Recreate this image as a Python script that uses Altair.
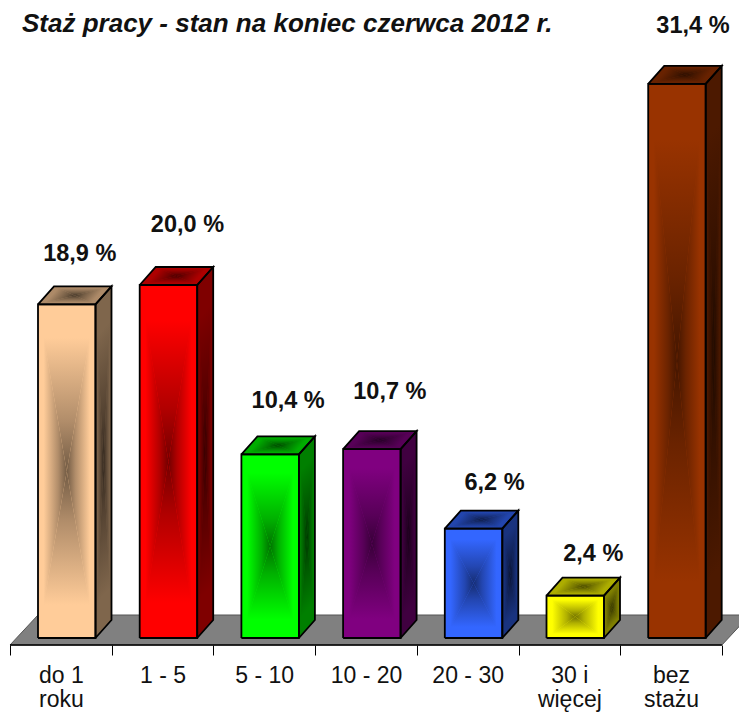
import altair as alt
import pandas as pd

categories = ["do 1 roku", "1 - 5", "5 - 10", "10 - 20", "20 - 30", "30 i więcej", "bez stażu"]
tick_lines = [["do 1", "roku"], ["1 - 5"], ["5 - 10"], ["10 - 20"], ["20 - 30"], ["30 i", "więcej"], ["bez", "stażu"]]
values = [18.9, 20.0, 10.4, 10.7, 6.2, 2.4, 31.4]
labels = ["18,9 %", "20,0 %", "10,4 %", "10,7 %", "6,2 %", "2,4 %", "31,4 %"]
colors = ["#FFCC99", "#FF0000", "#00FF00", "#800080", "#3366FF", "#FFFF00", "#993300"]
TITLE = "Staż pracy - stan na koniec czerwca 2012 r."

PX_X, PX_Y = 101.7, 17.65          # pixels per category / per percent
LEFT, RIGHT = -2 / PX_X, 729 / PX_X
FLOOR_Y, TOP = -7 / PX_Y, 614 / PX_Y
OFF = 28 / PX_X                    # bar start inside its category
BW = 57.5 / PX_X                   # bar width
DX, DY = 16 / PX_X, 18 / PX_Y      # 3D depth
FLOOR_DX, FLOOR_DY = 28 / PX_X, 30 / PX_Y

# per label shifts (pixels) relative to the top of the bar
label_dx = [13, 19, 18, 18, 21, 18, 16]
label_dy = [-43, -53, -46, -50, -39, -35, -51]

axis = alt.Axis(
    values=list(range(8)),
    domain=False, grid=False, ticks=True, tickSize=10, tickColor="#000000", tickWidth=1,
    labelOffset=PX_X / 2, labelFontSize=23, labelFont="Liberation Sans", labelColor="#111111",
    labelFontWeight="normal", labelAngle=0, labelOverlap=False, labelBound=False, labelFlush=False,
    labelPadding=9, labelLineHeight=24, labelBaseline="top", labelAlign="center",
    labelExpr="(" + str(tick_lines + [[""]]) + ")[datum.value]",
    title=None,
)
xs = alt.Scale(domain=[LEFT, RIGHT], nice=False, zero=False)
ys = alt.Scale(domain=[FLOOR_Y, TOP], nice=False, zero=False)
X = alt.X("x:Q", scale=xs, axis=axis, title=None)
Y = alt.Y("y:Q", scale=ys, axis=None, title=None)
Y2 = alt.Y2("y2:Q")


def shade(hex_color, f):
    r, g, b = int(hex_color[1:3], 16), int(hex_color[3:5], 16), int(hex_color[5:7], 16)
    return "#%02x%02x%02x" % (int(r * f), int(g * f), int(b * f))


def poly_rows(pts):
    """Convex polygon -> rows of an area mark."""
    rows = []
    n = len(pts)
    for vx in sorted({p[0] for p in pts}):
        hits = []
        for i in range(n):
            (x1, y1), (x2, y2) = pts[i], pts[(i + 1) % n]
            lo, hi = min(x1, x2), max(x1, x2)
            if lo - 1e-9 <= vx <= hi + 1e-9:
                if abs(x2 - x1) < 1e-9:
                    hits += [y1, y2]
                else:
                    hits.append(y1 + (vx - x1) / (x2 - x1) * (y2 - y1))
        rows.append({"x": vx, "y": min(hits), "y2": max(hits)})
    return rows


def area(pts, fill):
    return alt.Chart(pd.DataFrame(poly_rows(pts))).mark_area(fill=fill, opacity=1).encode(x=X, y=Y, y2=Y2)


def mix(c0, c1, t):
    a = [int(c0[i:i + 2], 16) for i in (1, 3, 5)]
    b = [int(c1[i:i + 2], 16) for i in (1, 3, 5)]
    return "#%02x%02x%02x" % tuple(int(p + (q - p) * t) for p, q in zip(a, b))


def tri_gradient(a, b, apex, c0, c1):
    """Colour runs from edge a-b (c0) to apex (c1), as a path gradient does."""
    xsv = [a[0], b[0], apex[0]]
    ysv = [a[1], b[1], apex[1]]
    x0, w = min(xsv), max(xsv) - min(xsv)
    y1, h = max(ysv), max(ysv) - min(ysv)
    u = lambda p: ((p[0] - x0) / w, (y1 - p[1]) / h)
    ua, ub, uc = u(a), u(b), u(apex)
    ex, ey = ub[0] - ua[0], ub[1] - ua[1]
    k = ((uc[0] - ua[0]) * ex + (uc[1] - ua[1]) * ey) / (ex * ex + ey * ey)
    fx, fy = ua[0] + k * ex, ua[1] + k * ey
    return alt.Gradient(
        gradient="linear",
        x1=float(fx), y1=float(fy), x2=float(uc[0]), y2=float(uc[1]),
        stops=[
            alt.GradientStop(offset=0, color=c0),
            alt.GradientStop(offset=0.2, color=c0),
            alt.GradientStop(offset=0.7, color=mix(c0, c1, 0.55)),
            alt.GradientStop(offset=1, color=c1),
        ],
    )


def face(pts, c0, c1):
    cx = sum(p[0] for p in pts) / 4
    cy = sum(p[1] for p in pts) / 4
    out = [area(pts, c0)]
    for i in range(4):
        a, b = pts[i], pts[(i + 1) % 4]
        out.append(area([a, b, (cx, cy)], tri_gradient(a, b, (cx, cy), c0, c1)))
    return out


layers = []

# floor
floor_pts = [(0, FLOOR_Y), (7, FLOOR_Y), (7 + FLOOR_DX, FLOOR_Y + FLOOR_DY), (FLOOR_DX, FLOOR_Y + FLOOR_DY)]
layers.append(area(floor_pts, "#808080"))
outline = []
for k, p in enumerate(floor_pts + floor_pts[:1]):
    outline.append({"x": p[0], "y": p[1], "o": k})
layers.append(alt.Chart(pd.DataFrame(outline)).mark_line(color="#555555", strokeWidth=1).encode(
    x=X, y=Y, order="o:Q"))
layers.append(alt.Chart(pd.DataFrame([{"x": 0, "x2": 7, "y": FLOOR_Y}])).mark_rule(color="#000000", strokeWidth=1.5).encode(
    x=X, x2="x2:Q", y=Y))

edges = []
for i, (v, c) in enumerate(zip(values, colors)):
    xl, xr = i + OFF, i + OFF + BW
    front = [(xl, 0), (xr, 0), (xr, v), (xl, v)]
    side = [(xr, 0), (xr + DX, DY), (xr + DX, v + DY), (xr, v)]
    top = [(xl, v), (xr, v), (xr + DX, v + DY), (xl + DX, v + DY)]
    layers += face(front, c, shade(c, 0.45))
    layers += face(side, shade(c, 0.5), shade(c, 0.2))
    layers += face(top, shade(c, 0.68), shade(c, 0.28))
    for name, pts in (("f", front), ("s", side), ("t", top)):
        for k, p in enumerate(pts + pts[:1]):
            edges.append({"x": p[0], "y": p[1], "o": k, "id": f"{name}{i}"})

layers.append(alt.Chart(pd.DataFrame(edges)).mark_line(color="#000000", strokeWidth=1.8, strokeJoin="miter").encode(
    x=X, y=Y, detail="id:N", order="o:Q"))

for i, (v, t) in enumerate(zip(values, labels)):
    layers.append(
        alt.Chart(pd.DataFrame([{"x": i + OFF + BW / 2, "y": v, "t": t}])).mark_text(
            font="Liberation Sans", fontWeight="bold", fontSize=23.5, color="#111111",
            baseline="alphabetic", align="center", dx=label_dx[i], dy=label_dy[i]
        ).encode(x=X, y=Y, text="t:N")
    )

chart = alt.layer(*layers).properties(
    width=731,
    height=621,
    background="#ffffff",
    padding={"left": 0, "top": 16, "right": 0, "bottom": 67},
    autosize=alt.AutoSizeParams(type="none"),
    title=alt.TitleParams(
        TITLE, anchor="start", frame="group", font="Liberation Sans", fontSize=26, fontWeight="bold",
        fontStyle="italic", color="#111111", offset=-23, dx=14,
    ),
).configure_view(stroke=None)

chart.save("out.html", embed_options={"renderer": "svg", "actions": False})
